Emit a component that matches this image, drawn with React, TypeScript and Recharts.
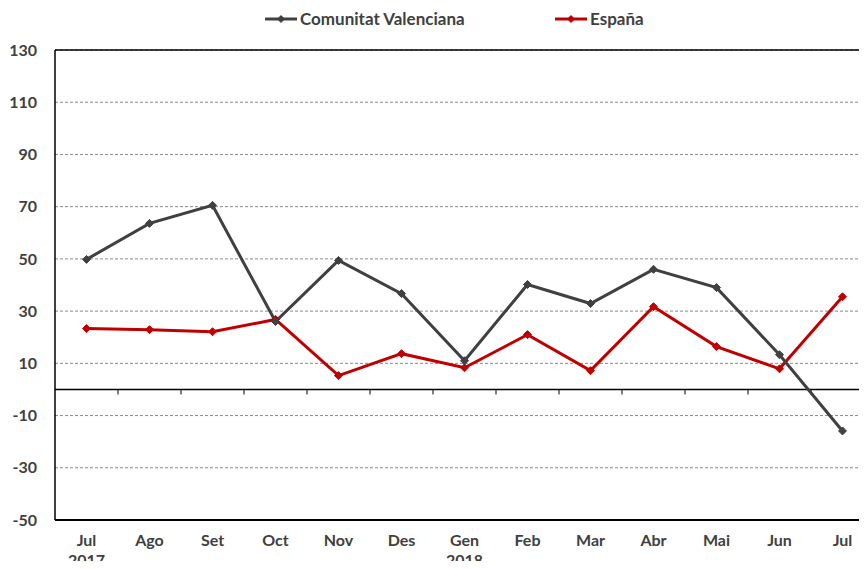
import { LineChart, Line, XAxis, YAxis, CartesianGrid, Legend, ReferenceLine } from 'recharts'

const months = ['Jul', 'Ago', 'Set', 'Oct', 'Nov', 'Des', 'Gen', 'Feb', 'Mar', 'Abr', 'Mai', 'Jun', 'Jul']
const years = ['2017', '', '', '', '', '', '2018', '', '', '', '', '', '']
const valenciana = [49.8, 63.6, 70.5, 26, 49.4, 36.7, 11, 40.2, 32.9, 46, 39, 13.3, -15.9]
const espana = [23.3, 22.9, 22.1, 26.8, 5.3, 13.7, 8.3, 21, 7.2, 31.7, 16.4, 7.9, 35.5]
const yTicks = [-50, -30, -10, 10, 30, 50, 70, 90, 110, 130]

const GRAY = '#404040'
const RED = '#c00000'
const FONT = 'Lato, "Open Sans", sans-serif'

const data = months.map((m, i) => ({
  key: i,
  month: m,
  year: years[i],
  valenciana: valenciana[i],
  espana: espana[i],
}))

const Diamond = (color: string) => (props: any) => {
  const { cx, cy } = props
  if (cx == null || cy == null) return null
  const r = 4
  return (
    <polygon
      points={`${cx},${cy - r} ${cx + r},${cy} ${cx},${cy + r} ${cx - r},${cy}`}
      fill={color}
      stroke={color}
    />
  )
}

const MonthTick = (props: any) => {
  const { x, y, payload } = props
  const d = data[payload.value]
  return (
    <g transform={`translate(${x},${y})`}>
      <text x={0} y={0} dy={18} textAnchor="middle" fill={GRAY} fontSize={16} fontWeight={700} fontFamily={FONT}>
        {d.month}
      </text>
      {d.year && (
        <text x={0} y={0} dy={38} textAnchor="middle" fill={GRAY} fontSize={16} fontWeight={700} fontFamily={FONT}>
          {d.year}
        </text>
      )}
    </g>
  )
}

// zero line with small tick marks on the category boundaries
const ZeroLine = (props: any) => {
  const { x1, x2, y1 } = props
  if (x1 == null) return null
  const step = (x2 - x1) / months.length
  const marks = months.slice(1).map((_, i) => x1 + step * (i + 1))
  return (
    <g>
      <line x1={x1} x2={x2} y1={y1} y2={y1} stroke="#000" strokeWidth={1.5} />
      {marks.map((mx, i) => (
        <line key={i} x1={mx} x2={mx} y1={y1} y2={y1 + 5} stroke="#000" strokeWidth={1} />
      ))}
    </g>
  )
}

const LegendItem = ({ color, label }: { color: string; label: string }) => (
  <span style={{ display: 'inline-flex', alignItems: 'center' }}>
    <svg width={32} height={10}>
      <line x1={0} x2={32} y1={5} y2={5} stroke={color} strokeWidth={3} />
      <polygon points="16,1 20,5 16,9 12,5" fill={color} />
    </svg>
    <span style={{ marginLeft: 3, color: GRAY, fontSize: 17, fontWeight: 700, fontFamily: FONT }}>{label}</span>
  </span>
)

const renderLegend = () => (
  <div style={{ position: 'relative', height: 20 }}>
    <div style={{ position: 'absolute', left: 265, top: -2 }}>
      <LegendItem color={GRAY} label="Comunitat Valenciana" />
    </div>
    <div style={{ position: 'absolute', left: 555, top: -2 }}>
      <LegendItem color={RED} label="España" />
    </div>
  </div>
)

export default function App() {
  return (
    <div style={{ margin: -8, width: 867, height: 569, overflow: 'hidden', background: '#fff' }}>
      <LineChart width={880} height={569} data={data} margin={{ top: 30, right: 6, bottom: 0, left: 0 }}>
        <Legend verticalAlign="top" align="left" content={renderLegend} wrapperStyle={{ top: 10, left: 0, width: 880 }} />
        <CartesianGrid vertical={false} stroke="#8a8a8a" strokeDasharray="3 2" />
        <XAxis
          dataKey="key"
          type="category"
          height={49}
          padding={{ left: 31.5, right: 31.5 }}
          tick={<MonthTick />}
          tickLine={false}
          axisLine={{ stroke: '#000', strokeWidth: 2 }}
          interval={0}
        />
        <YAxis
          domain={[-50, 130]}
          ticks={yTicks}
          width={55}
          tickLine={false}
          tickSize={0}
          tickMargin={18}
          axisLine={{ stroke: '#000', strokeWidth: 1.5 }}
          tick={{ fill: GRAY, fontSize: 16, fontWeight: 700, fontFamily: FONT }}
        />
        <ReferenceLine y={130} stroke="#000" strokeWidth={1.5} />
        <ReferenceLine y={0} shape={<ZeroLine />} />
        <Line
          dataKey="espana"
          stroke={RED}
          strokeWidth={3}
          dot={Diamond(RED)}
          activeDot={false}
          isAnimationActive={false}
        />
        <Line
          dataKey="valenciana"
          stroke={GRAY}
          strokeWidth={3}
          dot={Diamond(GRAY)}
          activeDot={false}
          isAnimationActive={false}
        />
      </LineChart>
    </div>
  )
}
